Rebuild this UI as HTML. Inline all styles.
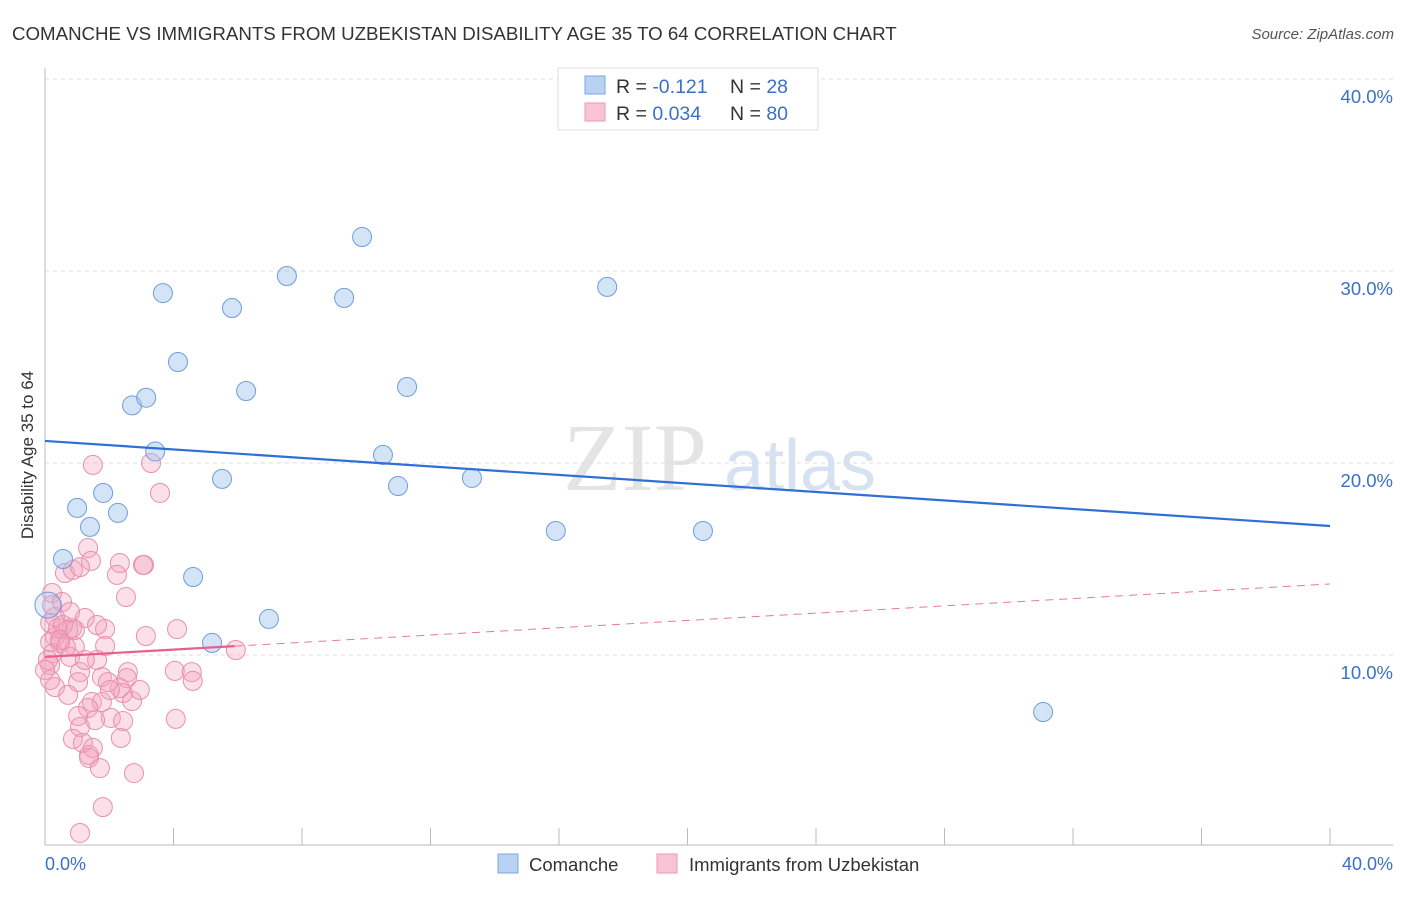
<!DOCTYPE html>
<html><head><meta charset="utf-8"><style>
body{margin:0;background:#fff;font-family:"Liberation Sans",sans-serif}
</style></head><body>
<svg width="1406" height="892" xmlns="http://www.w3.org/2000/svg" id="svg">
<text x="12" y="40" font-size="18.7" fill="#333">COMANCHE VS IMMIGRANTS FROM UZBEKISTAN DISABILITY AGE 35 TO 64 CORRELATION CHART</text>
<text x="1394" y="39" font-size="15" fill="#555" font-style="italic" text-anchor="end">Source: ZipAtlas.com</text>
<g>
<text x="635" y="490" font-family="Liberation Serif" font-size="96" fill="#e4e4e4" text-anchor="middle">ZIP</text>
<text x="800" y="490" font-size="72" fill="#d6e2f2" text-anchor="middle">atlas</text>
</g>
<g id="grid"></g>
<g id="axes"></g>
<g id="marks"></g>
<text transform="translate(33,455) rotate(-90)" font-size="17" fill="#333" text-anchor="middle">Disability Age 35 to 64</text>
<text x="45" y="870" font-size="18" fill="#3a70c8">0.0%</text>
<text x="1393" y="870" font-size="18" fill="#3a70c8" text-anchor="end">40.0%</text>
<g>
<rect x="558" y="68" width="260" height="62" fill="#fff" stroke="#ddd"/>
<rect x="585" y="76" width="20" height="18" fill="#b8d2f4" stroke="#7ea6dc"/>
<rect x="585" y="103" width="20" height="18" fill="#f8c4d4" stroke="#e79ab2"/>
<text x="616" y="93" font-size="19.5" fill="#333">R = <tspan fill="#3a70c8">-0.121</tspan></text>
<text x="730" y="93" font-size="19.5" fill="#333">N = <tspan fill="#3a70c8">28</tspan></text>
<text x="616" y="120" font-size="19.5" fill="#333">R = <tspan fill="#3a70c8">0.034</tspan></text>
<text x="730" y="120" font-size="19.5" fill="#333">N = <tspan fill="#3a70c8">80</tspan></text>
</g>
<g>
<rect x="498" y="854" width="20" height="19" fill="#b8d2f4" stroke="#7ea6dc"/>
<text x="529" y="871" font-size="18.5" fill="#333">Comanche</text>
<rect x="657" y="854" width="20" height="19" fill="#f8c4d4" stroke="#e79ab2"/>
<text x="689" y="871" font-size="18.5" fill="#333">Immigrants from Uzbekistan</text>
</g>
</svg>
<script>
const yTicks=[10,20,30,40];
const yTickLabels=["10.0%","20.0%","30.0%","40.0%"];
const blueX=[0.09,0.56,1.0,1.4,1.81,2.27,2.71,3.15,3.43,3.67,4.14,4.61,5.2,5.51,5.82,6.26,6.97,7.53,9.31,9.87,10.52,10.99,11.27,13.29,15.9,17.5,20.48,31.07];
const blueY=[12.6,15.0,17.66,16.67,18.44,17.4,23.0,23.4,20.6,28.85,25.26,14.06,10.63,19.17,28.07,23.75,11.88,29.74,28.6,31.77,20.42,18.8,23.96,19.22,16.46,29.17,16.46,7.03];
const pinkX=[1.49,3.30,3.58,1.34,1.43,0.62,0.87,1.09,2.33,2.24,3.08,3.05,2.52,0.22,0.53,1.24,1.87,3.14,4.11,0.72,0.84,0.31,0.16,0.47,0.93,1.87,0.25,0.78,1.62,0.16,1.09,1.77,2.58,4.04,4.57,4.6,2.55,1.03,1.96,2.33,0.31,0.16,0.72,2.43,2.71,1.46,1.77,1.34,1.03,2.05,2.43,4.07,1.09,0.87,1.18,1.49,1.37,1.37,2.36,1.71,2.77,1.8,1.09,5.94,0.16,0.4,0.31,1.62,0.56,0.65,0.22,0.09,1.24,2.02,1.56,0.47,0.93,2.95,0.78,0.0];
const pinkY=[19.9,20.0,18.44,15.57,14.9,14.27,14.43,14.58,14.79,14.17,14.69,14.69,13.02,13.23,12.76,11.93,11.35,10.99,11.35,11.3,11.4,10.94,10.68,10.63,10.42,10.47,10.1,9.9,9.74,9.48,9.11,8.85,9.11,9.17,9.11,8.65,8.8,8.59,8.59,8.28,8.33,8.7,7.92,8.02,7.6,7.55,7.55,7.24,6.82,6.72,6.56,6.67,6.25,5.63,5.42,5.16,4.79,4.64,5.68,4.11,3.85,2.08,0.73,10.26,11.67,11.4,11.98,11.56,11.56,10.42,12.6,9.74,9.74,8.18,6.61,10.78,11.3,8.18,12.24,9.22];
const blueTrend=[21.15,16.72];
const pinkTrend=[9.9,13.7];
const pinkSolidEnd=5.9;
const X0=45,X1=1330,Y0=847,PY=19.2;
const sx=v=>X0+(X1-X0)*v/40, sy=v=>Y0-v*PY;
const NS="http://www.w3.org/2000/svg";
function mk(t,a,p){const e=document.createElementNS(NS,t);for(const k in a)e.setAttribute(k,a[k]);document.getElementById(p).appendChild(e);return e;}
yTicks.forEach((t,i)=>{
 const l=mk('line',{x1:45,x2:1393,y1:sy(t),y2:sy(t),stroke:'#ddd','stroke-dasharray':'4,4'},'grid');
 
 
 const tx=mk('text',{x:1393,y:sy(t)+24,'font-size':18.5,fill:'#3a70c8','text-anchor':'end'},'grid');
 tx.textContent=yTickLabels[i];
 
 
});
let a=mk('line',{x1:45,x2:45,y1:68,y2:845,stroke:'#bbb'},'axes');


a=mk('line',{x1:45,x2:1393,y1:845,y2:845,stroke:'#bbb'},'axes');


for(let i=1;i<=10;i++){
 const x=sx(i*4);
 const t=mk('line',{x1:x,x2:x,y1:828,y2:845,stroke:'#bbb'},'axes');
 
 
}
pinkX.forEach((v,i)=>{
 const c=mk('circle',{cx:sx(v),cy:sy(pinkY[i]),r:9.5,fill:'rgba(244,160,188,0.33)',stroke:'#e890ad','stroke-width':1},'marks');
 
 
});
blueX.forEach((v,i)=>{
 const c=mk('circle',{cx:sx(v),cy:sy(blueY[i]),r:i===0?13:9.5,fill:i===0?'rgba(160,196,238,0.3)':'rgba(160,196,238,0.45)',stroke:'#6f9ddb','stroke-width':1},'marks');
 
 
});
let ln=mk('line',{x1:sx(0),x2:sx(40),y1:sy(blueTrend[0]),y2:sy(blueTrend[1]),stroke:'#2f6fd6','stroke-width':2.2},'marks');


const pAt=v=>pinkTrend[0]+(pinkTrend[1]-pinkTrend[0])*v/40;
ln=mk('line',{x1:sx(pinkSolidEnd),x2:sx(40),y1:sy(pAt(pinkSolidEnd)),y2:sy(pinkTrend[1]),stroke:'#e6789c','stroke-width':1,'stroke-dasharray':'8,6'},'marks');


ln=mk('line',{x1:sx(0),x2:sx(pinkSolidEnd),y1:sy(pinkTrend[0]),y2:sy(pAt(pinkSolidEnd)),stroke:'#e6608c','stroke-width':2.2},'marks');


</script>
</body></html>
